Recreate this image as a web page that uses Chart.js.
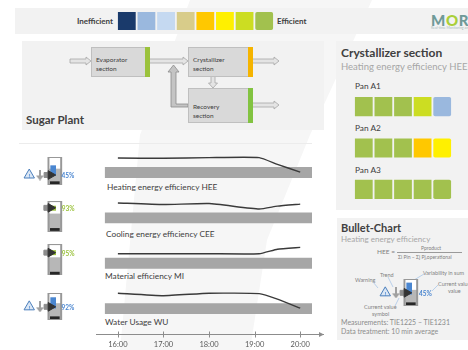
<!DOCTYPE html>
<html>
<head>
<meta charset="utf-8">
<title>Sugar plant resource efficiency</title>
<script src="https://cdn.jsdelivr.net/npm/chart.js@4"></script>
<style>
  html, body { margin: 0; padding: 0; background: #fff; }
  #page { position: relative; width: 468px; height: 350px; overflow: hidden; font-family: Lato, "Open Sans", sans-serif; color: #404040; }
  #page > * { position: absolute; }
  .sweep { left: 0; top: 0; width: 468px; height: 350px; background: #f6f6f6;
           clip-path: polygon(190px 0, 372px 0, 310px 135px, 267px 240px, 250px 350px, 120px 350px, 140px 135px); }
  .panel { background: #f2f2f2; }
  .t { white-space: nowrap; transform: translateY(-50%); line-height: 1; }
  .h { font-size: 12px; font-weight: 700; color: #404040; }
  .s { font-size: 9.5px; color: #a6a6a6; }
  .r { font-size: 8.3px; color: #404040; }
  .b { font-size: 6.5px; color: #404040; }
  .a { font-size: 5.5px; color: #7f7f7f; }
  .n { font-size: 7px; color: #8c8c8c; }
  canvas { display: block; }
</style>
</head>
<body>
<div id="page">
  <div class="sweep"></div>
  <div class="panel" style="left:15px;top:8px;width:453px;height:26px"></div>
  <div class="panel" style="left:22px;top:41px;width:302px;height:89px"></div>
  <div class="panel" style="left:336px;top:41px;width:132px;height:169px"></div>
  <div class="panel" style="left:337px;top:218px;width:131px;height:122px"></div>
  <div style="left:19px;top:143px;width:293px;height:1px;background:#ececec"></div>

  <!-- Efficiency scale captions and logo -->
  <div class="t" style="left:77px;top:21px;font-size:8px;font-weight:700;color:#404040">Inefficient</div>
  <div class="t" style="left:277px;top:21px;font-size:8px;font-weight:700;color:#404040">Efficient</div>
  <div class="t" style="left:431px;top:20px;font-size:15px;font-weight:900;letter-spacing:.6px;color:#6f9a98">M<span style="color:#a9cf38">O</span>RE</div>
  <div class="t" style="left:431px;top:29px;font-size:3.5px;color:#a9bdbc">Real-time Monitoring and Optimization</div>

  <!-- Plant flow diagram -->
  <svg style="left:0;top:0" width="468" height="140" viewBox="0 0 468 140">
    <g fill="#e4e4e4" stroke="#a6a6a6" stroke-width="0.8">
      <polygon points="70,59 86,59 86,57 91,61 86,65 86,63 70,63"/>
      <polygon points="149,59 183,59 183,57 188,61 183,65 183,63 149,63"/>
      <polygon points="252,59 274,59 274,57 279,61 274,65 274,63 252,63"/>
      <polygon points="252,103 274,103 274,101 279,105 274,109 274,107 252,107"/>
      <polygon points="211,76 215,76 215,83 217.5,83 213,88 208.5,83 211,83"/>
    </g>
    <polygon points="188,104 176,104 176,72 179,72 173.5,65 168,72 171,72 171,107 188,107" fill="#c4c4c4" stroke="#8c8c8c" stroke-width="0.8"/>
    <g fill="#d9d9d9" stroke="#bfbfbf" stroke-width="1">
      <rect x="91.5" y="47.5" width="58" height="29"/>
      <rect x="188.5" y="47.5" width="64" height="29"/>
      <rect x="188.5" y="88.5" width="64" height="34"/>
    </g>
    <rect x="145" y="47" width="5" height="30" fill="#9bc23c"/>
    <rect x="248" y="47" width="5" height="30" fill="#f5b400"/>
    <rect x="248" y="88" width="5" height="35" fill="#82c341"/>
  </svg>
  <div class="t b" style="left:96px;top:60px">Evaporator</div>
  <div class="t b" style="left:96px;top:69px">section</div>
  <div class="t b" style="left:193px;top:60px">Crystallizer</div>
  <div class="t b" style="left:193px;top:69px">section</div>
  <div class="t b" style="left:193px;top:107px">Recovery</div>
  <div class="t b" style="left:193px;top:116px">section</div>
  <div class="t" style="left:26px;top:120px;font-size:11.5px;font-weight:700;color:#404040">Sugar Plant</div>

  <!-- Crystallizer pans -->
  <div class="t h" style="left:341px;top:53px">Crystallizer section</div>
  <div class="t s" style="left:341px;top:67px">Heating energy efficiency HEE</div>
  <div class="t r" style="left:355px;top:86px">Pan A1</div>
  <div class="t r" style="left:355px;top:128px">Pan A2</div>
  <div class="t r" style="left:355px;top:170px">Pan A3</div>

  <!-- Row captions -->
  <div class="t r" style="left:107px;top:187px">Heating energy efficiency HEE</div>
  <div class="t r" style="left:106px;top:234px">Cooling energy efficiency CEE</div>
  <div class="t r" style="left:105px;top:276px">Material efficiency MI</div>
  <div class="t r" style="left:105px;top:322px">Water Usage WU</div>

  <!-- Explanation of the gauge -->
  <div class="t h" style="left:341px;top:227px;font-size:11px">Bullet-Chart</div>
  <div class="t" style="left:341px;top:239px;font-size:8px;color:#a6a6a6">Heating energy efficiency</div>
  <div class="t" style="left:377px;top:252px;font-size:6.5px;color:#7f7f7f">HEE =</div>
  <div class="t" style="left:421px;top:248px;font-size:5px;color:#7f7f7f">Pproduct</div>
  <div style="left:397px;top:252px;width:65px;height:1px;background:#9a9a9a"></div>
  <div class="t" style="left:398px;top:257px;font-size:5px;color:#7f7f7f">Σi Pin − Σj Pj,operational</div>
  <div class="t a" style="left:355px;top:281px">Warning</div>
  <div class="t a" style="left:380px;top:276px">Trend</div>
  <div class="t a" style="left:423px;top:274px">Variability in sum</div>
  <div class="t a" style="left:438px;top:285px">Current value</div>
  <div class="t a" style="left:448px;top:292px">value</div>
  <div class="t a" style="left:364px;top:308px">Current value</div>
  <div class="t a" style="left:372px;top:315px">symbol</div>
  <svg style="left:340px;top:265px" width="128" height="60" viewBox="340 265 128 60">
    <g stroke="#a9c6e8" stroke-width="0.8" fill="none">
      <line x1="373" y1="282" x2="378" y2="288"/>
      <line x1="388" y1="277" x2="393" y2="287"/>
      <line x1="424" y1="274" x2="414" y2="280"/>
      <line x1="438" y1="285" x2="432" y2="291"/>
      <line x1="399" y1="298" x2="395" y2="306"/>
    </g>
  </svg>
  <div class="t n" style="left:341px;top:322px">Measurements: TIE1225 – TIE1231</div>
  <div class="t n" style="left:341px;top:331px">Data treatment: 10 min average</div>
</div>

<script>
// Efficiency colour scale, from least to most efficient
const efficiencyColors = ['#1a3a6b', '#9ab8de', '#c5d9f1', '#d8cc8a', '#ffc800', '#fff000', '#ccdd22', '#a2c14e'];
const efficiencySteps = [0, 1, 2, 3, 4, 5, 6, 7];

// Crystallizer pans: efficiency step of each of the five recent periods
const panNames = ['Pan A1', 'Pan A2', 'Pan A3'];
const panA1 = [7, 7, 7, 6, 1];
const panA2 = [7, 7, 7, 4, 5];
const panA3 = [7, 7, 7, 7, 7];

// Indicator histories (percent of each row's range) against the hour of day
const timeHours = [16, 17, 18, 19.1, 19.5, 20];
const heatingHistory = [88, 87.5, 89, 89, 74, 57];
const coolingHistory = [89, 85.5, 87.6, 75.5, 82, 86.5];
const materialHistory = [77, 77, 77, 77, 87, 91];
const waterHistory = [90, 84.5, 90, 89, 77, 57];
const tickHours = [16, 17, 18, 19, 20];
const targetTop = 68;
const targetBottom = 44;

// Gauges: heating, cooling, material, water, and the explanatory example
const gaugeValues = [45, 93, 95, 92, 45];
const gaugeMin = [30, 59.5, 64, 72, 25];
const gaugeMax = [72, 102.5, 107, 113, 66];
const gaugeSpreadLow = [44, 89.5, 92, 90, 43];
const gaugeSpreadHigh = [59, 95.5, 98, 106, 60];
const gaugeOpenLow = [55, 85.5, 89, 98, 50];
const gaugeOpenHigh = [70, 100.5, 105, 111, 64];
const gaugeFloorLow = [32, 61.5, 65, 74, 27];
const gaugeFloorHigh = [35, 64.5, 68, 77, 30];
const gaugeWarning = [true, false, false, true, true];
const gaugeColors = ['#4a86d0', '#9bc23c', '#9bc23c', '#4a86d0', '#4a86d0'];

const page = document.getElementById('page');
Chart.defaults.font.family = 'Lato, "Open Sans", sans-serif';

function addCanvas(left, top, width, height) {
  const c = document.createElement('canvas');
  c.width = width;
  c.height = height;
  c.style.cssText = `left:${left}px;top:${top}px;width:${width}px;height:${height}px`;
  page.appendChild(c);
  return c;
}

// Row of rounded tiles as a stacked horizontal bar chart
function tileChart(canvas, names, rows, thickness, borderColor) {
  new Chart(canvas, {
    type: 'bar',
    data: {
      labels: names,
      datasets: rows[0].map((_, col) => ({
        data: rows.map(() => 1),
        backgroundColor: rows.map(r => efficiencyColors[r[col]]),
        borderColor,
        borderWidth: 1.25,
        borderRadius: 3,
        borderSkipped: false,
        barThickness: thickness
      }))
    },
    options: {
      indexAxis: 'y',
      responsive: false,
      animation: false,
      plugins: { legend: { display: false }, tooltip: { enabled: false } },
      scales: {
        x: { stacked: true, display: false, min: 0, max: rows[0].length },
        y: { stacked: true, display: false }
      }
    }
  });
}

tileChart(addCanvas(117, 11, 157, 20), ['Scale'], [efficiencySteps], 20, '#f2f2f2');
tileChart(addCanvas(354, 86, 98, 124), panNames, [panA1, panA2, panA3], 21, '#f2f2f2');

// Small down arrow used as the trend symbol
function trendArrow() {
  const c = document.createElement('canvas');
  c.width = 8;
  c.height = 11;
  const g = c.getContext('2d');
  g.fillStyle = '#a0a0a0';
  g.fillRect(3, 0, 2, 7);
  g.beginPath();
  g.moveTo(0, 6);
  g.lineTo(8, 6);
  g.lineTo(4, 11);
  g.fill();
  return c;
}

// Prints the gauge reading beside its marker
const readingLabel = {
  id: 'readingLabel',
  afterDatasetsDraw(chart, args, opts) {
    const { ctx, scales } = chart;
    ctx.save();
    ctx.font = '700 6.5px Lato';
    ctx.fillStyle = opts.color;
    ctx.textBaseline = 'middle';
    ctx.fillText(opts.value + '%', scales.x.getPixelForValue(opts.x), scales.y.getPixelForValue(opts.value) + 1);
    if (opts.warning) {
      ctx.font = '700 6px Lato';
      ctx.textAlign = 'center';
      ctx.fillText('!', scales.x.getPixelForValue(10), scales.y.getPixelForValue(opts.value) + 1.5);
    }
    ctx.restore();
  }
};

// One vertical gauge: frame, open section, spread bar, floor and markers
function gaugeChart(i, left, top, height, labelX) {
  const gaugeX = 41;
  const value = gaugeValues[i];
  const bar = (x, low, high, color, thickness, order) => ({
    type: 'bar',
    data: [{ x, y: [low, high] }],
    backgroundColor: color,
    barThickness: thickness,
    grouped: false,
    order
  });
  const point = (x, style, radius, fill, stroke, rotation, order) => ({
    type: 'line',
    data: [{ x, y: value }],
    showLine: false,
    pointStyle: style,
    pointRadius: radius,
    pointBackgroundColor: fill,
    pointBorderColor: stroke,
    pointBorderWidth: 1,
    pointRotation: rotation,
    clip: false,
    order
  });
  const datasets = [
    bar(gaugeX, gaugeMin[i], gaugeMax[i], '#989898', 14, 9),
    bar(gaugeX, gaugeMin[i] + 2, gaugeMax[i] - 2, '#b7b7b7', 10, 8),
    bar(gaugeX, gaugeOpenLow[i], gaugeOpenHigh[i], '#ffffff', 10, 7),
    bar(gaugeX - 2, gaugeSpreadLow[i], gaugeSpreadHigh[i], gaugeColors[i], 5, 6),
    bar(gaugeX, gaugeFloorLow[i], gaugeFloorHigh[i], '#262626', 9, 5),
    point(31, 'rect', 3.5, '#8c8c8c', '#8c8c8c', 0, 4),
    point(36, 'triangle', 5, '#333333', '#333333', 90, 3)
  ];
  if (gaugeWarning[i]) {
    datasets.push(point(10, 'triangle', 6, '#dbe7f5', '#4a7ebb', 0, 2));
    datasets.push(point(23, trendArrow(), 5, '#a0a0a0', '#a0a0a0', 0, 1));
  }
  new Chart(addCanvas(left, top, 80, height), {
    data: { datasets },
    options: {
      responsive: false,
      animation: false,
      layout: { padding: 0 },
      plugins: {
        legend: { display: false },
        tooltip: { enabled: false },
        readingLabel: { value, x: labelX, color: gaugeColors[i], warning: gaugeWarning[i] }
      },
      scales: {
        x: { type: 'linear', display: false, offset: false, grid: { offset: false }, min: 0, max: 80 },
        y: { type: 'linear', display: false, min: gaugeMin[i], max: gaugeMax[i] }
      }
    },
    plugins: [readingLabel]
  });
}

gaugeChart(0, 14, 150, 42, 49);
gaugeChart(1, 14, 195, 43, 49);
gaugeChart(2, 14, 238, 43, 49);
gaugeChart(3, 14, 286, 41, 49);
gaugeChart(4, 370, 272, 41, 51);

// Grey target band for a row, filled between the two limits
function bandSet(axis) {
  return {
    yAxisID: axis,
    data: [{ x: 15.71, y: targetTop }, { x: 20.26, y: targetTop }],
    borderWidth: 0,
    pointRadius: 0,
    backgroundColor: '#a6a6a6',
    fill: { value: targetBottom },
    order: 2
  };
}

function historySet(axis, values) {
  return {
    yAxisID: axis,
    data: values.map((y, k) => ({ x: timeHours[k], y })),
    borderColor: '#3a3a3a',
    borderWidth: 1.4,
    pointRadius: 0,
    tension: 0.15,
    fill: false,
    order: 1
  };
}

const rowAxis = () => ({ type: 'linear', display: false, stack: 'rows', stackWeight: 1, min: 0, max: 100 });

// Arrowhead on the time axis and ticks that straddle it
const timeAxisDecor = {
  id: 'timeAxisDecor',
  afterDraw(chart) {
    const { ctx, chartArea, scales } = chart;
    const y = chartArea.bottom + 0.5;
    ctx.save();
    ctx.strokeStyle = '#8c8c8c';
    ctx.fillStyle = '#8c8c8c';
    ctx.lineWidth = 1;
    tickHours.forEach(h => {
      const x = Math.round(scales.x.getPixelForValue(h)) + 0.5;
      ctx.beginPath();
      ctx.moveTo(x, y - 3);
      ctx.lineTo(x, y + 3);
      ctx.stroke();
    });
    ctx.beginPath();
    ctx.moveTo(chartArea.right + 1, y);
    ctx.lineTo(chartArea.right - 4, y - 2.5);
    ctx.lineTo(chartArea.right - 4, y + 2.5);
    ctx.fill();
    ctx.restore();
  }
};

new Chart(addCanvas(90, 150, 245, 200), {
  type: 'line',
  data: {
    datasets: [
      bandSet('y0'), bandSet('y1'), bandSet('y2'), bandSet('y3'),
      historySet('y0', heatingHistory),
      historySet('y1', coolingHistory),
      historySet('y2', materialHistory),
      historySet('y3', waterHistory)
    ]
  },
  options: {
    responsive: false,
    animation: false,
    layout: { padding: { left: 6, right: 12, top: 2.6, bottom: 0 } },
    plugins: { legend: { display: false }, tooltip: { enabled: false } },
    scales: {
      x: {
        type: 'linear',
        min: 15.52,
        max: 20.5,
        afterBuildTicks: axis => { axis.ticks = tickHours.map(value => ({ value })); },
        afterFit: axis => { axis.height = 16; },
        grid: { drawOnChartArea: false, drawTicks: false },
        border: { color: '#8c8c8c' },
        ticks: {
          padding: 6,
          maxRotation: 0,
          color: '#595959',
          font: { size: 7.5 },
          callback: v => v + ':00'
        }
      },
      y3: rowAxis(),
      y2: rowAxis(),
      y1: rowAxis(),
      y0: rowAxis()
    }
  },
  plugins: [timeAxisDecor]
});
</script>
</body>
</html>
